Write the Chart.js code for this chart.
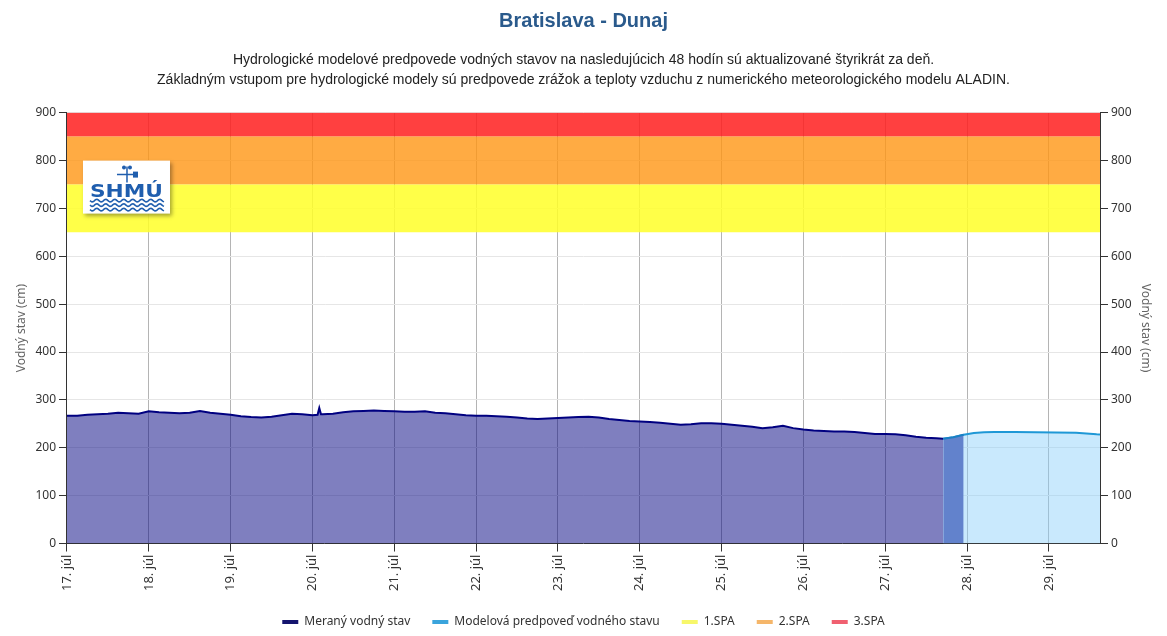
<!DOCTYPE html>
<html>
<head>
<meta charset="utf-8">
<script src="https://cdn.jsdelivr.net/npm/chart.js@4.4.0/dist/chart.umd.min.js"></script>
<style>
  html, body { margin: 0; padding: 0; background: #fff; }
  #wrap { width: 1167px; height: 636px; }
</style>
</head>
<body>
<div id="wrap"><canvas id="hydroChart"></canvas></div>
<script>
// hodiny od 17. júla 00:00
const measuredHours = [
  0, 3, 6, 9, 12, 15, 18, 21, 24, 27, 30, 33, 36, 39, 42, 45, 48, 51, 54, 57, 60, 63, 66, 69, 72,
  73.5, 74, 74.5,
  75, 78, 81, 84, 87, 90, 93, 96, 99, 102, 105, 108, 111, 114, 117, 120, 123, 126, 129, 132,
  135, 138, 141, 144, 147, 150, 153, 156, 159, 162, 165, 168, 171, 174, 177, 180, 183, 186, 189, 192,
  195, 198, 201, 204, 207, 210, 213, 216, 219, 222, 225, 228, 231, 234, 237, 240, 243, 246, 249, 252, 255, 257
];
const measuredLevels = [
  267, 267, 269, 270, 271, 273, 272, 271, 276, 274, 273, 272, 273, 277, 273, 271, 269, 266, 264, 263, 265, 268, 271, 270, 268,
  269, 283, 270,
  270, 271, 274, 276, 277, 278, 277, 276, 275, 275, 276, 273, 272, 270, 268, 267, 267, 266, 265, 263,
  261, 260, 261, 262, 263, 264, 265, 263, 260, 258, 256, 255, 254, 252, 250, 248, 249, 251, 251, 250,
  248, 246, 244, 241, 243, 246, 241, 238, 236, 235, 234, 234, 233, 231, 229, 229, 228, 226, 223, 221, 220, 219
];
const forecastHours = [257, 260, 263, 266, 269, 272, 278, 284, 290, 296, 299, 302, 303];
const forecastLevels = [219, 222, 227, 231, 232.5, 233, 233, 232.5, 232, 231.5, 230, 228, 227.5];
const overlapEnd = 263;

const spaLevels = [650, 750, 850, 900];
const spaNames = ['1.SPA', '2.SPA', '3.SPA'];
const spaColors = ['rgba(255,255,40,0.85)', 'rgba(255,150,20,0.8)', 'rgba(255,30,30,0.85)'];
const spaLegendColors = ['#f7f76a', '#f5b66a', '#f06070'];

const dayLabels = ['17. júl', '18. júl', '19. júl', '20. júl', '21. júl', '22. júl', '23. júl',
  '24. júl', '25. júl', '26. júl', '27. júl', '28. júl', '29. júl'];
const endHour = 303;

const toPoints = (hours, levels) => hours.map((h, i) => ({ x: h, y: levels[i] }));

const overlapPoints = toPoints(forecastHours, forecastLevels).filter(p => p.x <= overlapEnd);

const spaDatasets = spaNames.map((name, i) => ({
  label: name,
  data: [{ x: 0, y: spaLevels[i + 1] }, { x: endHour, y: spaLevels[i + 1] }],
  fill: { value: spaLevels[i] },
  backgroundColor: spaColors[i],
  borderColor: spaLegendColors[i],
  borderWidth: 0,
  pointRadius: 0,
  legendColor: spaLegendColors[i]
}));

// legenda nizsie, pevna vyska
const legendHeight = {
  id: 'legendHeight',
  beforeInit(chart) {
    const fit = chart.legend.fit;
    chart.legend.fit = function () {
      fit.call(this);
      this.height = 42;
    };
  }
};

const logoPlugin = {
  id: 'shmuLogo',
  afterDatasetsDraw(chart) {
    const { ctx, chartArea } = chart;
    const x = chartArea.left + 16, y = chartArea.top + 48, w = 87, h = 53;
    ctx.save();
    ctx.shadowColor = 'rgba(0,0,0,0.35)';
    ctx.shadowBlur = 4;
    ctx.shadowOffsetX = 2;
    ctx.shadowOffsetY = 2;
    ctx.fillStyle = '#fff';
    ctx.fillRect(x, y, w, h);
    ctx.shadowColor = 'transparent';
    ctx.fillStyle = '#1f5eae';
    ctx.strokeStyle = '#1f5eae';
    // veterník
    ctx.lineWidth = 1.5;
    ctx.beginPath();
    ctx.moveTo(x + 44, y + 6); ctx.lineTo(x + 44, y + 22);
    ctx.moveTo(x + 34, y + 14); ctx.lineTo(x + 52, y + 14);
    ctx.stroke();
    ctx.beginPath();
    ctx.arc(x + 41, y + 7, 2, 0, Math.PI * 2);
    ctx.arc(x + 47, y + 7, 2, 0, Math.PI * 2);
    ctx.fill();
    ctx.fillRect(x + 50, y + 11, 5, 6);
    // text
    ctx.font = 'bold 17px "DejaVu Sans"';
    ctx.textAlign = 'left';
    ctx.textBaseline = 'alphabetic';
    const tw = ctx.measureText('SHMÚ').width;
    ctx.save();
    ctx.translate(x + 7, y + 36);
    ctx.scale(73 / tw, 1);
    ctx.fillText('SHMÚ', 0, 0);
    ctx.restore();
    // vlny
    ctx.lineWidth = 1.6;
    for (let r = 0; r < 3; r++) {
      const wy = y + 40 + r * 4.5;
      ctx.beginPath();
      for (let px = 0; px <= 74; px += 1) {
        const py = wy + Math.sin(px / 9 * Math.PI * 2) * 1.3;
        if (px === 0) ctx.moveTo(x + 7 + px, py); else ctx.lineTo(x + 7 + px, py);
      }
      ctx.stroke();
    }
    ctx.restore();
  }
};

const ctx = document.getElementById('hydroChart').getContext('2d');
const hydroChart = new Chart(ctx, {
  type: 'line',
  data: {
    datasets: [
      {
        label: '',
        data: overlapPoints,
        fill: 'origin',
        backgroundColor: 'rgb(98,130,204)',
        borderColor: '#1a7fc4',
        borderWidth: 2,
        pointRadius: 0
      },
      {
        label: 'Meraný vodný stav',
        data: toPoints(measuredHours, measuredLevels),
        fill: 'origin',
        backgroundColor: 'rgba(0,0,128,0.5)',
        borderColor: '#000080',
        borderWidth: 2,
        pointRadius: 0,
        legendColor: '#14146e'
      },
      {
        label: 'Modelová predpoveď vodného stavu',
        data: toPoints(forecastHours, forecastLevels),
        fill: 'origin',
        backgroundColor: 'rgba(135,206,250,0.45)',
        borderColor: '#1f98d6',
        borderWidth: 2,
        pointRadius: 0,
        legendColor: '#3aa4dc'
      },
      ...spaDatasets
    ]
  },
  options: {
    responsive: true,
    maintainAspectRatio: false,
    animation: false,
    layout: { padding: { left: 10, right: 10, top: 2, bottom: 0 } },
    plugins: {
      title: {
        display: true,
        text: 'Bratislava - Dunaj',
        color: '#2a5a8c',
        font: { family: 'Liberation Sans', size: 20, weight: 'bold' },
        padding: { top: 7, bottom: 17 }
      },
      subtitle: {
        display: true,
        text: [
          'Hydrologické modelové predpovede vodných stavov na nasledujúcich 48 hodín sú aktualizované štyrikrát za deň.',
          'Základným vstupom pre hydrologické modely sú predpovede zrážok a teploty vzduchu z numerického meteorologického modelu ALADIN.'
        ],
        color: '#222',
        font: { family: 'Liberation Sans', size: 14, lineHeight: 1.45 },
        padding: { bottom: 22 }
      },
      legend: {
        position: 'bottom',
        labels: {
          color: '#333',
          font: { family: 'Noto Sans', size: 12 },
          boxWidth: 16,
          boxHeight: 4,
          padding: 22,
          filter: item => item.text !== '',
          generateLabels(chart) {
            const items = Chart.defaults.plugins.legend.labels.generateLabels(chart);
            items.forEach(item => {
              const c = chart.data.datasets[item.datasetIndex].legendColor;
              if (c) { item.fillStyle = c; item.strokeStyle = c; }
              item.lineWidth = 0;
            });
            return items;
          }
        }
      },
      tooltip: { enabled: false }
    },
    scales: {
      x: {
        type: 'linear',
        min: 0,
        max: endHour,
        afterBuildTicks: axis => { axis.ticks = axis.ticks.filter(t => t.value % 24 === 0); },
        ticks: {
          stepSize: 24,
          autoSkip: false,
          maxRotation: 90,
          minRotation: 90,
          color: '#333',
          font: { family: 'Noto Sans', size: 13 },
          callback: v => dayLabels[v / 24]
        },
        grid: { color: '#b4b4b4', tickColor: '#333', tickLength: 8 },
        border: { color: '#333' }
      },
      y: {
        position: 'left',
        min: 0,
        max: 900,
        ticks: { stepSize: 100, color: '#333', font: { family: 'Noto Sans', size: 12 } },
        grid: { color: '#e6e6e6', tickColor: '#333', tickLength: 8 },
        border: { color: '#333' },
        title: { display: true, text: 'Vodný stav (cm)', color: '#666', font: { family: 'Noto Sans', size: 12 } }
      },
      y2: {
        position: 'right',
        min: 0,
        max: 900,
        ticks: { stepSize: 100, color: '#333', font: { family: 'Noto Sans', size: 12 } },
        grid: { drawOnChartArea: false, tickColor: '#333', tickLength: 8 },
        border: { color: '#333' },
        title: { display: true, text: 'Vodný stav (cm)', color: '#666', font: { family: 'Noto Sans', size: 12 } }
      }
    }
  },
  plugins: [logoPlugin, legendHeight]
});
</script>
</body>
</html>
